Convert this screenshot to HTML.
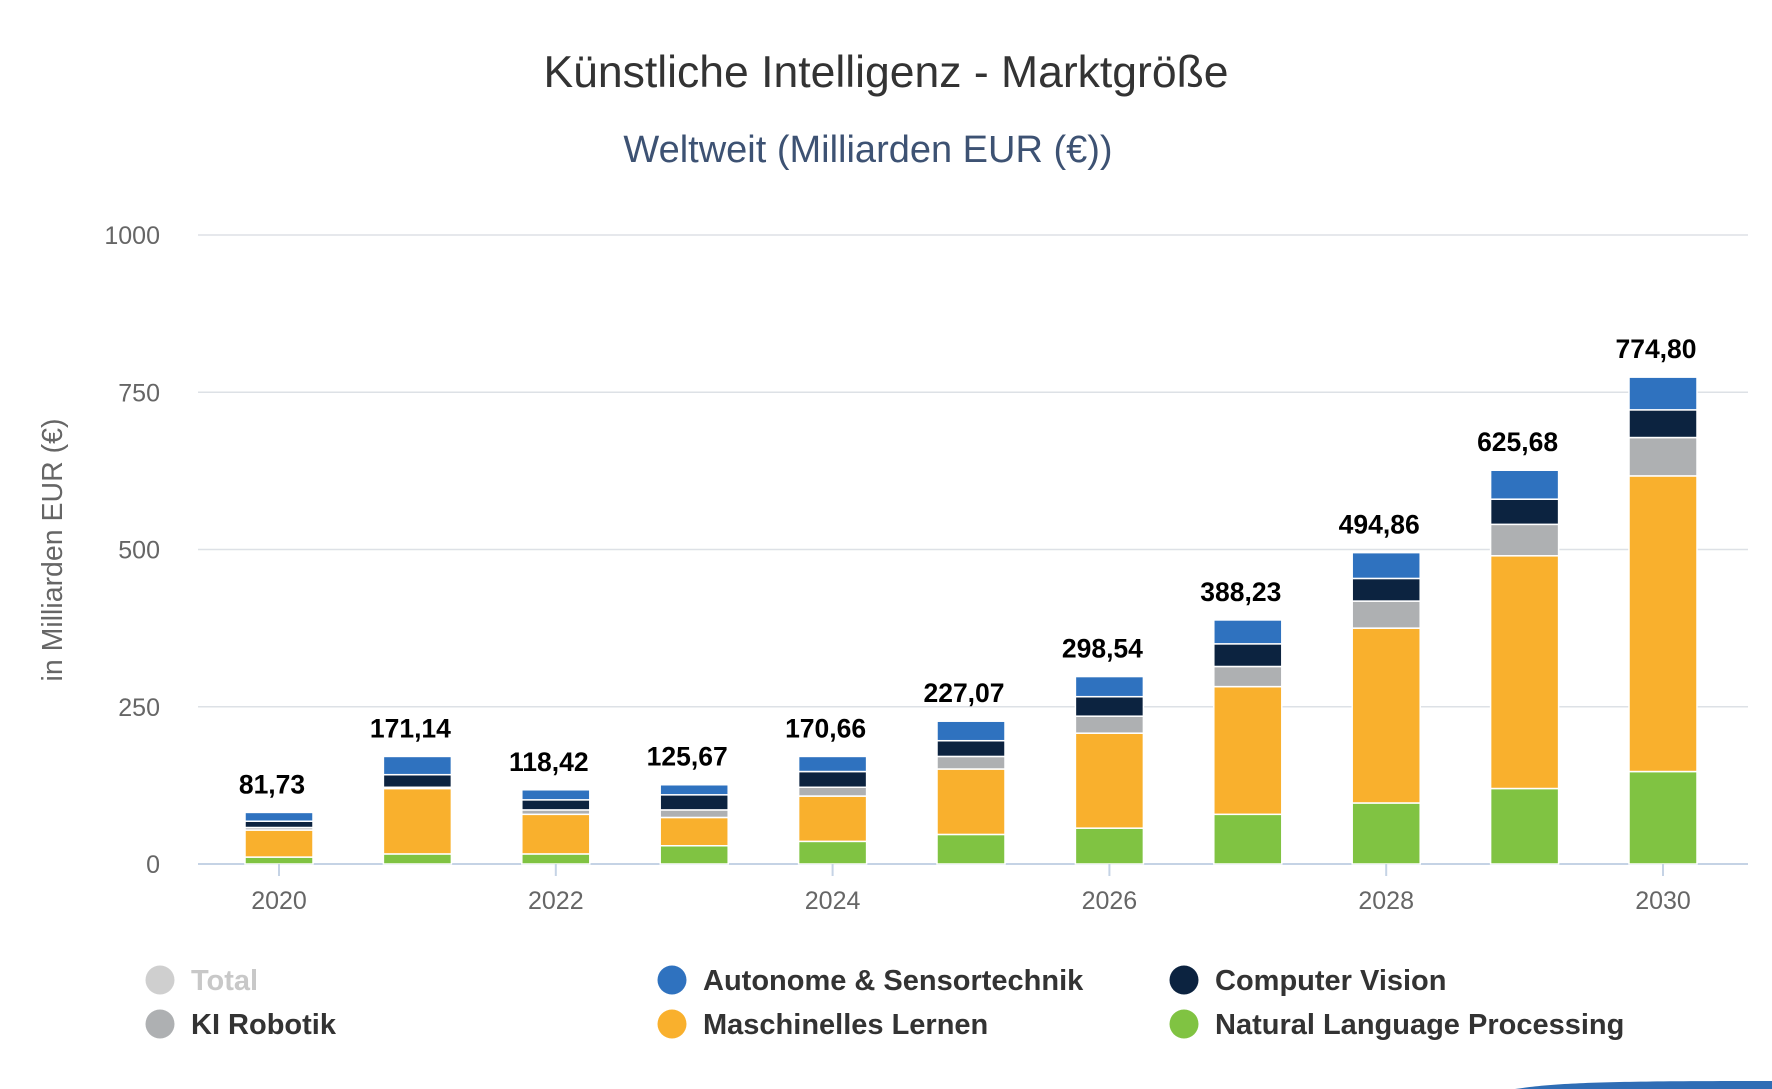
<!DOCTYPE html>
<html><head><meta charset="utf-8"><style>
html,body{margin:0;padding:0;background:#fff;}
svg{display:block;font-family:"Liberation Sans",sans-serif;}
</style></head><body>
<svg id="chart" width="1772" height="1089" viewBox="0 0 1772 1089">
<text x="886" y="87" text-anchor="middle" font-size="44.5" fill="#333">Künstliche Intelligenz - Marktgröße</text>
<text x="868" y="162" text-anchor="middle" font-size="38" fill="#3d5273">Weltweit (Milliarden EUR (€))</text>
<g id="grid"></g>
<g id="bars"></g>
<text transform="translate(62,550) rotate(-90)" text-anchor="middle" font-size="28.5" fill="#666">in Milliarden EUR (€)</text>
<g id="legend"></g>
<path d="M1515,1089 C1560,1082 1620,1081 1772,1081 L1772,1089 Z" fill="#2f6db5"/>
</svg>
<script>
const years=[2020,2021,2022,2023,2024,2025,2026,2027,2028,2029,2030];
const totals=["81,73","171,14","118,42","125,67","170,66","227,07","298,54","388,23","494,86","625,68","774,80"];
const nlp=[11,16,16,29,36,47,57,79,97,120,147];
const ml=[43,104,63,45,72,104,151,203,278,370,470];
const robotik=[4,2,7,12,14,20,27,32,43,50,61];
const vision=[10,20,16,24,25,25,31,36,36,40,44];
const autonom=[14,29,16,16,24,31,32,38,41,46,52];
const yTicks=[0,250,500,750,1000];
const seriesNames=["Natural Language Processing","Maschinelles Lernen","KI Robotik","Computer Vision","Autonome & Sensortechnik"];
const seriesData=[nlp,ml,robotik,vision,autonom];
const colors=["#80c342","#f9b02d","#aeb0b2","#0c2340","#2f72bf"];
const NS="http://www.w3.org/2000/svg";
const L=198,R=1748,Y0=864,Y1=235;
const y=v=>Y0-(v/1000)*(Y0-Y1);
const x=i=>279+i*138.4;
const BW=68;
function mk(t,a,p){const e=document.createElementNS(NS,t);for(const k in a)e.setAttribute(k,a[k]);p.appendChild(e);return e;}
const grid=document.getElementById('grid');
yTicks.forEach(t=>{
  const ln=mk('line',{x1:L,x2:R,y1:y(t),y2:y(t),stroke:t===0?'#c5d3e5':'#dde1e6','stroke-width':t===0?2:1.5},grid);
  
  
  const tx=mk('text',{x:160,y:y(t)+9,'text-anchor':'end','font-size':25,fill:'#666'},grid);
  tx.textContent=t;
  
  
});
const bars=document.getElementById('bars');
years.forEach((yr,i)=>{
  let cum=0;
  seriesData.forEach((s,k)=>{
    const v=s[i];
    const r=mk('rect',{x:x(i)-BW/2,y:y(cum+v),width:BW,height:Math.max(0,y(cum)-y(cum+v)),fill:colors[k],stroke:'#fff','stroke-width':1.5},bars);
    
    
    cum+=v;
  });
  const lb=mk('text',{x:x(i)-7,y:y(cum)-19,'text-anchor':'middle','font-size':26.5,'font-weight':'bold',fill:'#000'},bars);
  lb.textContent=totals[i];
  
  
  if(i%2===0){
    const tk=mk('line',{x1:x(i),x2:x(i),y1:Y0,y2:Y0+12,stroke:'#c5d3e5','stroke-width':2},bars);
    
    
    const xl=mk('text',{x:x(i),y:909,'text-anchor':'middle','font-size':25,fill:'#666'},bars);
    xl.textContent=yr;
    
    
  }
});
const legendItems=[["Total","#cfcfcf",160,980,"#c8c8c8"],["Autonome & Sensortechnik",colors[4],672,980,"#333"],["Computer Vision",colors[3],1184,980,"#333"],["KI Robotik",colors[2],160,1024,"#333"],["Maschinelles Lernen",colors[1],672,1024,"#333"],["Natural Language Processing",colors[0],1184,1024,"#333"]];
const lg=document.getElementById('legend');
legendItems.forEach(it=>{
  const g=mk('g',{},lg);
  
  
  mk('circle',{cx:it[2],cy:it[3],r:14.5,fill:it[1]},g);
  const t=mk('text',{x:it[2]+31,y:it[3]+10,'font-size':29,'font-weight':'bold',fill:it[4]},g);
  t.textContent=it[0];
});
</script>
</body></html>
